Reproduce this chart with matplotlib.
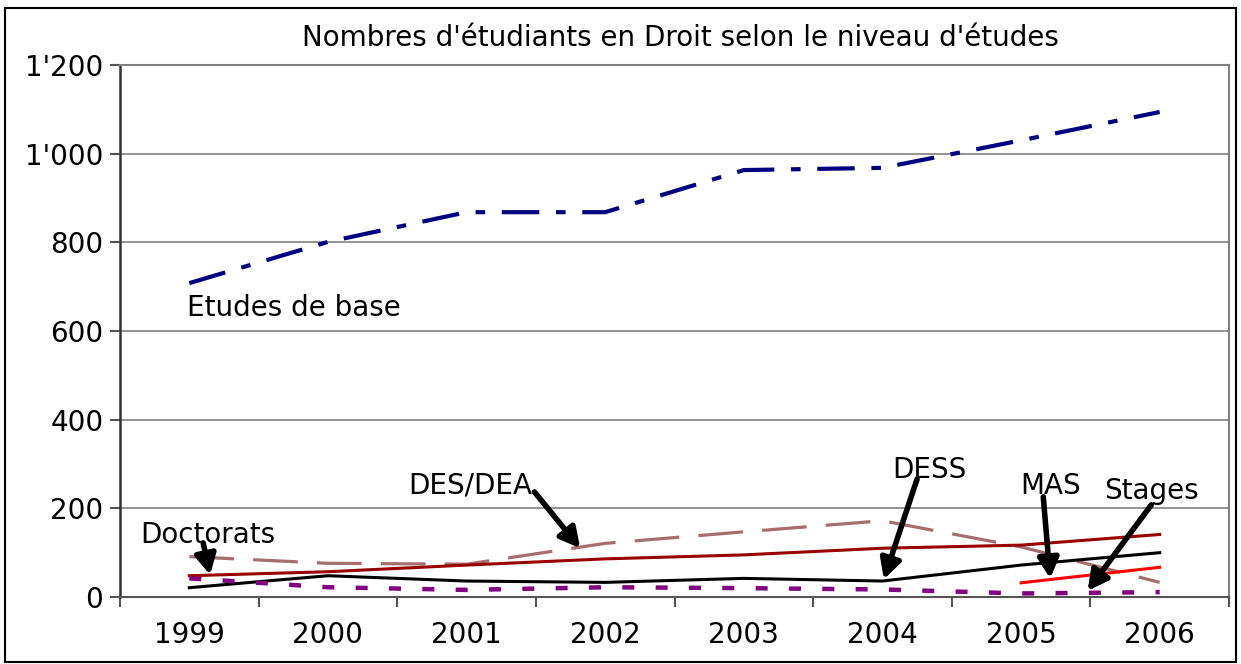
import matplotlib
matplotlib.use("Agg")
import matplotlib.pyplot as plt
from matplotlib.patches import Rectangle
from matplotlib.ticker import FuncFormatter, MultipleLocator, FixedLocator

years = ["1999", "2000", "2001", "2002", "2003", "2004", "2005", "2006"]
etudes_base = [708, 801, 868, 868, 963, 968, 1030, 1094]
des_dea = [91, 76, 74, 121, 147, 172, 113, 33]
doctorats = [48, 57, 72, 86, 95, 110, 117, 141]
dess = [21, 48, 36, 33, 42, 36, 72, 100]
stages = [42, 22, 16, 22, 20, 17, 8, 11]
mas_years = ["2005", "2006"]
mas = [32, 67]

title = "Nombres d'étudiants en Droit selon le niveau d'études"

plt.rcParams['font.family'] = ['DejaVu Sans']

fig = plt.figure(figsize=(12.41, 6.64), dpi=100)
ax = fig.add_axes([120/1241, 67/664, (1229-120)/1241, (597-65)/664])

x = list(range(len(years)))
xm = [years.index(y) for y in mas_years]

ax.plot(x, etudes_base, color="#000080", lw=3, dashes=(9, 4, 2.3, 4), solid_capstyle='butt', dash_capstyle='butt', zorder=3)
ax.plot(x, des_dea, color="#A66E6E", lw=2.3, dashes=(14, 6), dash_capstyle='butt', zorder=3)
ax.plot(x, doctorats, color="#990000", lw=2.2, zorder=3)
ax.plot(x, dess, color="black", lw=2.2, zorder=3)
ax.plot(x, stages, color="#800080", lw=3.2, dashes=(2.7, 4.8), dash_capstyle='butt', zorder=3)
ax.plot(xm, mas, color="#FF0000", lw=2.2, zorder=3)

ax.set_xlim(-0.5, 7.5)
ax.set_ylim(0, 1200)
ax.yaxis.set_major_locator(MultipleLocator(200))
ax.yaxis.set_major_formatter(FuncFormatter(lambda v, p: f"{int(v):,}".replace(",", "'")))
ax.grid(axis='y', color="#808080", lw=1.2, zorder=1)

ax.set_xticks(x)
ax.set_xticklabels(years)
ax.xaxis.set_minor_locator(FixedLocator([i - 0.5 for i in range(len(years) + 1)]))
ax.tick_params(axis='x', which='major', length=0, pad=17, labelsize=20)
ax.tick_params(axis='x', which='minor', length=7, width=1.5, color="#555555", direction='out')
ax.tick_params(axis='y', length=7, width=1.5, color="#555555", pad=5, labelsize=20)

for s in ["top", "right"]:
    ax.spines[s].set_color("#808080")
    ax.spines[s].set_linewidth(1.5)
ax.spines["left"].set_color("#333333")
ax.spines["left"].set_linewidth(1.8)
ax.spines["bottom"].set_color("#555555")
ax.spines["bottom"].set_linewidth(1.5)

fig.text(680/1241, 1 - 38/664, title, ha='center', va='center', fontsize=20)

# text labels (label, x, y)
labels = [
    ("Etudes de base", -0.02, 652, 'left'),
    ("Doctorats", 0.13, 140, 'center'),
    ("DES/DEA", 2.03, 252, 'center'),
    ("DESS", 5.34, 286, 'center'),
    ("MAS", 6.21, 250, 'center'),
    ("Stages", 6.94, 239, 'center'),
]
for t, lx, ly, ha in labels:
    ax.text(lx, ly, t, ha=ha, va='center', fontsize=20, zorder=5)

# arrows (start -> tip)
arrows = [
    ((0.10, 122), (0.15, 50)),
    ((2.49, 237), (2.82, 110)),
    ((5.25, 266), (5.01, 40)),
    ((6.16, 226), (6.21, 42)),
    ((6.94, 208), (6.48, 14)),
]
for (sx, sy), (tx, ty) in arrows:
    ax.annotate("", xy=(tx, ty), xytext=(sx, sy),
                arrowprops=dict(arrowstyle="-|>,head_width=0.45,head_length=0.85",
                                lw=4, color="black", mutation_scale=14,
                                shrinkA=0, shrinkB=0), zorder=6)

fig.patches.append(Rectangle((5/1241, 2/664), 1231/1241, 654/664, transform=fig.transFigure,
                             fill=False, edgecolor="black", lw=1.5))

fig.savefig("out.png", dpi=100)
